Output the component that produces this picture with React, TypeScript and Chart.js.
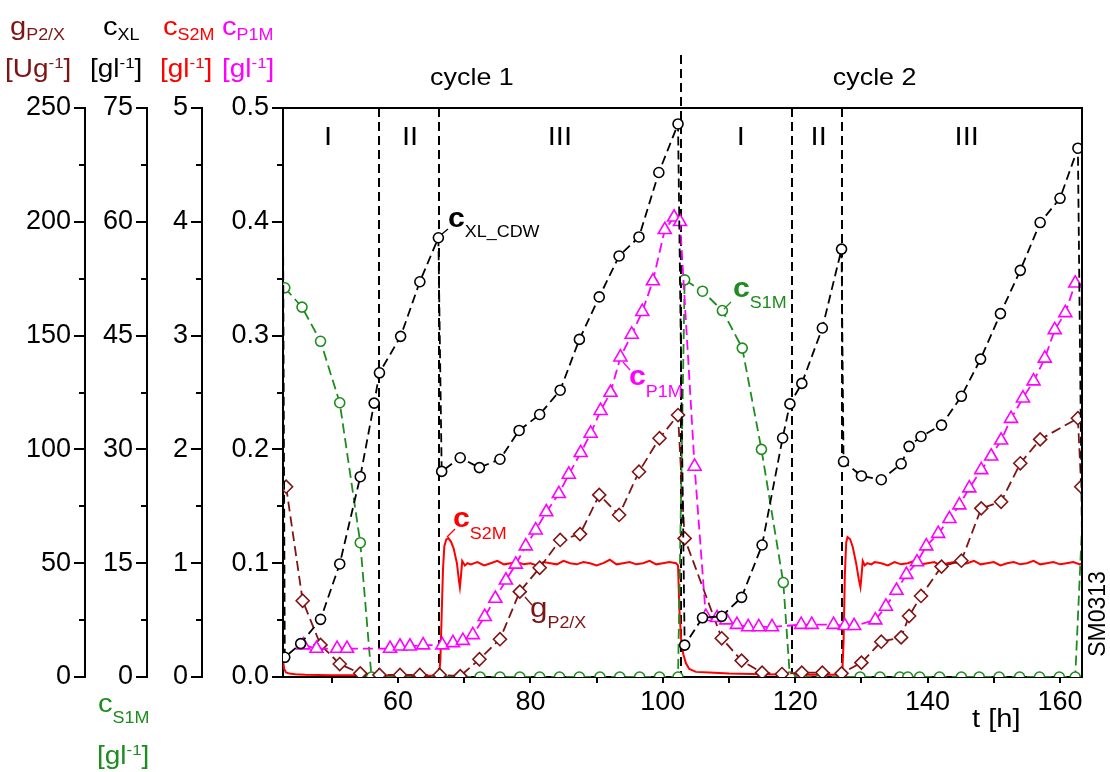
import React, { useEffect, useRef } from 'react';
import { Chart, registerables } from 'chart.js';

Chart.register(...registerables);

const FONT = "'Liberation Sans', Arial, Helvetica, sans-serif";

// ---------------- axis ranges & ticks ----------------
const tMin = 42.63;
const tMax = 163.32;
const xTickValues = [50, 60, 70, 80, 90, 100, 110, 120, 130, 140, 150, 160];
const minorG = [25, 75, 125, 175, 225];
const minorXL = [7.5, 22.5, 37.5, 52.5, 67.5];
const minorS = [0.5, 1.5, 2.5, 3.5, 4.5];
const minorP = [0.05, 0.15, 0.25, 0.35, 0.45];

// phase / cycle separators (t in h)
const phaseT = [57.13, 66.23, 119.58, 127.12];
const cycleT = [102.75];
const phaseLabels = ['I', 'II', 'III', 'I', 'II', 'III'];
const phaseLabelT = [49.43, 61.81, 84.45, 111.77, 123.55, 145.9];
const cycleLabels = ['cycle 1', 'cycle 2'];
const cycleLabelT = [71.17, 132.0];

// ---------------- data ----------------
// c_XL_CDW  [g/l]
const xlT = [42.58, 42.9, 45.3, 48.3, 51.2, 54.3, 56.4, 57.2, 60.4, 63.3,
  66.1, 66.6, 69.4, 72.3, 75.4, 78.3, 81.4, 84.5, 87.4, 90.4,
  93.4, 96.4, 99.4, 102.3, 103.3, 106.0, 108.9, 111.9, 115.0, 118.1,
  119.2, 121.0, 124.1, 127.0, 127.3, 130.0, 133.0, 136.0, 137.2, 139.0,
  142.1, 145.1, 148.0, 151.0, 154.0, 157.0, 160.0, 162.7, 163.5];
const xlV = [72, 2.6, 4.4, 7.6, 14.9, 26.4, 36.1, 40.1, 44.9, 52.1,
  57.9, 27.1, 28.9, 27.6, 28.7, 32.5, 34.6, 37.8, 44.5, 50.1,
  55.5, 58.0, 66.5, 72.9, 4.2, 7.8, 8.0, 10.5, 17.4, 31.5,
  36.0, 38.7, 46.0, 56.4, 28.4, 26.5, 26.0, 28.1, 30.4, 31.7,
  33.2, 37.0, 41.9, 47.9, 53.6, 59.9, 63.1, 69.7, 3];

// c_P1M [g/l]
const p1T = [45.7, 47.7, 50.8, 52.3,
  58.8, 60.3, 61.8, 63.8, 66.7, 68.3, 69.8, 71.3,
  73.1, 74.7, 76.3, 77.8, 79.3, 80.8, 82.4, 84.3, 85.8, 87.6,
  89.1, 90.6, 92.1, 93.6, 95.3, 96.9, 98.5, 100.3, 101.7, 102.6,
  104.8, 106.5, 108.2, 109.6, 111.2, 112.9, 114.5, 116.5,
  120.9, 122.5, 125.8, 127.5, 128.9,
  132.1, 133.7, 135.3, 136.8, 138.4, 139.8, 141.6, 143.3, 144.8, 146.3,
  148.1, 149.6, 151.1, 152.6, 154.4, 156.0, 157.7, 159.2, 160.8, 162.3];
const p1V = [0.028, 0.025, 0.025, 0.025,
  0.025, 0.027, 0.027, 0.028, 0.028, 0.030, 0.032, 0.037,
  0.053, 0.069, 0.085, 0.099, 0.115, 0.129, 0.145, 0.161, 0.178, 0.197,
  0.214, 0.234, 0.250, 0.281, 0.301, 0.321, 0.348, 0.393, 0.404, 0.400,
  0.185, 0.053, 0.052, 0.050, 0.046, 0.044, 0.044, 0.044,
  0.046, 0.046, 0.046, 0.045, 0.045,
  0.050, 0.062, 0.076, 0.090, 0.101, 0.115, 0.126, 0.139, 0.151, 0.166,
  0.182, 0.194, 0.208, 0.227, 0.245, 0.260, 0.280, 0.305, 0.320, 0.346];

// g_P2/X [U/g]
const gT = [43.1, 45.6, 48.3, 51.2, 54.3, 57.2, 60.3, 63.3, 66.3, 69.4,
  72.3, 75.4, 78.4, 81.4, 84.5, 87.5, 90.4, 93.4, 96.4, 99.5,
  102.3, 103.3, 108.9, 111.9, 115.0, 118.0, 121.0, 124.1, 127.0, 130.0,
  133.0, 136.0, 137.2, 139.0, 142.1, 145.1, 148.1, 151.1, 154.0, 157.0,
  162.7, 163.2];
const gV = [83.6, 33.5, 14.1, 5.7, 1.6, 0.9, 0.9, 0.9, 0.9, 0.4,
  7.8, 16.6, 37.5, 48.0, 60.2, 62.8, 80.0, 71.2, 90.2, 104.9,
  115.1, 60.9, 17.0, 7.2, 1.9, 1.3, 1.9, 1.9, 1.6, 6.3,
  15.5, 17.4, 26.8, 35.6, 48.5, 51.1, 74.1, 77.0, 93.9, 104.4,
  113.7, 83.6];

// c_S1M [g/l]
const s1T = [42.9, 45.5, 48.3, 51.2, 54.3,
  56.0, 57.2, 60.3, 63.3, 66.3, 69.4, 72.4, 75.4, 78.4, 81.4, 84.4, 87.4, 90.5, 93.5, 96.5, 99.5, 102.3,
  103.3, 106.0, 109.0, 112.0, 114.9, 118.2,
  119.2, 121.0, 124.0, 127.0, 129.8, 132.8, 135.8, 137.0, 138.8, 141.8, 145.1, 147.8, 150.8, 153.9, 156.9, 159.9, 162.3,
  165.0];
const s1V = [3.42, 3.25, 2.95, 2.41, 1.18,
  0, 0, 0, 0, 0, 0, 0, 0, 0, 0, 0, 0, 0, 0, 0, 0, 0,
  3.49, 3.39, 3.22, 2.89, 2.0, 0.83,
  0, 0, 0, 0, 0, 0, 0, 0, 0, 0, 0, 0, 0, 0, 0, 0, 0,
  3.5];

// c_S2M [g/l] (online trace)
const s2T = [42.63, 42.8, 43.1, 43.6, 44.5, 46, 50, 55, 60, 64,
  66.2, 66.4, 66.6, 66.8, 67.0, 67.3, 67.6, 68.0, 68.4, 68.9,
  69.2, 69.35, 69.5, 69.7, 70.1, 70.5, 71, 72, 73, 74,
  75, 76, 77, 78, 79, 80, 81, 82, 83, 84,
  85, 86, 87, 88, 89, 90, 91, 92, 93, 94,
  95, 96, 97, 98, 99, 100, 101, 102, 102.3, 102.5,
  102.8, 103.1, 103.5, 104, 105, 107, 110, 115, 120, 125,
  127.1, 127.3, 127.5, 127.7, 127.9, 128.3, 128.7, 129.2, 129.6, 129.85,
  130.0, 130.2, 130.5, 130.9, 131.5, 132, 133, 134, 135, 136,
  137, 138, 139, 140, 141, 142, 143, 144, 145, 146,
  147, 148, 149, 150, 151, 152, 153, 154, 155, 156,
  157, 158, 159, 160, 161, 162, 163, 163.32];
const s2V = [0.15, 0.07, 0.04, 0.03, 0.025, 0.02, 0.015, 0.015, 0.01, 0.01,
  0.01, 0.15, 0.55, 0.95, 1.15, 1.21, 1.22, 1.19, 1.13, 1.0,
  0.85, 0.79, 0.88, 1.02, 0.98, 1.0, 0.99, 1.01, 0.98, 1.0,
  1.02, 0.99, 1.0, 1.01, 0.99, 1.0, 0.98, 1.01, 1.0, 0.99,
  1.02, 1.0, 0.99, 1.01, 1.0, 0.98, 1.0, 1.03, 0.99, 1.0,
  1.01, 0.99, 1.0, 1.02, 0.99, 1.0, 1.01, 1.0, 0.98, 0.6,
  0.3, 0.2, 0.12, 0.07, 0.045, 0.04, 0.03, 0.025, 0.02, 0.02,
  0.02, 0.3, 0.9, 1.18, 1.23, 1.21, 1.14, 1.0, 0.86, 0.79,
  0.88, 1.02, 0.98, 1.0, 0.99, 1.01, 1.0, 0.98, 1.01, 0.99,
  1.0, 1.02, 0.99, 1.0, 1.01, 0.98, 1.0, 1.01, 0.99, 1.0,
  1.02, 0.99, 1.0, 1.01, 0.98, 1.0, 1.01, 0.99, 1.0, 1.02,
  0.99, 1.0, 1.01, 0.99, 1.0, 1.01, 0.99, 1.0];

// ---------------- colours ----------------
const C_BLACK = '#000000';
const C_MAG = '#ff00ff';
const C_BROWN = '#7f1414';
const C_GREEN = '#1e8c1e';
const C_RED = '#ff0000';

const mk = (ts: number[], vs: number[]) => ts.map((t, i) => ({ x: t, y: vs[i] }));
const inRange = (c: any) => {
  const r = c.raw;
  return r && r.x >= tMin && r.x <= tMax;
};

type Part = { t: string; size: number; dy?: number; bold?: boolean };
const SX = 1.12;

function partsWidth(ctx: CanvasRenderingContext2D, parts: Part[]) {
  let w = 0;
  for (const p of parts) {
    ctx.font = `${p.bold ? 'bold ' : ''}${p.size}px ${FONT}`;
    w += ctx.measureText(p.t).width;
  }
  return w * SX;
}

function rich(ctx: CanvasRenderingContext2D, x: number, y: number, parts: Part[], color: string, align: 'left' | 'center' = 'left') {
  ctx.save();
  const w = partsWidth(ctx, parts);
  const x0 = align === 'center' ? x - w / 2 : x;
  ctx.translate(x0, y);
  ctx.scale(SX, 1);
  ctx.fillStyle = color;
  ctx.textBaseline = 'alphabetic';
  ctx.textAlign = 'left';
  let cx = 0;
  for (const p of parts) {
    ctx.font = `${p.bold ? 'bold ' : ''}${p.size}px ${FONT}`;
    ctx.fillText(p.t, cx, p.dy || 0);
    cx += ctx.measureText(p.t).width;
  }
  ctx.restore();
}

function seg(ctx: CanvasRenderingContext2D, x1: number, y1: number, x2: number, y2: number) {
  ctx.beginPath();
  ctx.moveTo(x1, y1);
  ctx.lineTo(x2, y2);
  ctx.stroke();
}

const decorPlugin = {
  id: 'decor',
  beforeDatasetsDraw(chart: any) {
    const { ctx, chartArea: a, scales } = chart;
    const xs = scales.x;
    ctx.save();
    ctx.strokeStyle = '#000';
    ctx.lineWidth = 2;
    ctx.setLineDash([9, 5]);
    phaseT.forEach((t) => {
      const px = Math.round(xs.getPixelForValue(t));
      seg(ctx, px, a.top, px, a.bottom);
    });
    cycleT.forEach((t) => {
      const px = Math.round(xs.getPixelForValue(t));
      seg(ctx, px, 55, px, a.bottom);
    });
    ctx.restore();
  },
  afterDraw(chart: any) {
    const { ctx, chartArea: a, scales } = chart;
    const xs = scales.x;
    ctx.save();
    // frame top & right
    ctx.strokeStyle = '#000';
    ctx.lineWidth = 2;
    ctx.setLineDash([]);
    seg(ctx, a.left, a.top, a.right + 1, a.top);
    seg(ctx, a.right, a.top, a.right, a.bottom);

    // minor ticks on the y axes
    const minors: [string, number[]][] = [['yG', minorG], ['yXL', minorXL], ['yS', minorS], ['yP', minorP]];
    minors.forEach(([id, vals]) => {
      const s = scales[id];
      vals.forEach((v) => {
        const py = Math.round(s.getPixelForValue(v));
        seg(ctx, s.right - 6, py, s.right, py);
      });
    });

    // phase labels & cycle labels
    phaseLabels.forEach((lab, i) => {
      rich(ctx, xs.getPixelForValue(phaseLabelT[i]), 145, [{ t: lab, size: 26 }], '#000', 'center');
    });
    cycleLabels.forEach((lab, i) => {
      rich(ctx, xs.getPixelForValue(cycleLabelT[i]), 85, [{ t: lab, size: 24 }], '#000', 'center');
    });

    // axis headers
    rich(ctx, 10, 35, [{ t: 'g', size: 26 }, { t: 'P2/X', size: 16, dy: 5 }], C_BROWN);
    rich(ctx, 103, 35, [{ t: 'c', size: 26 }, { t: 'XL', size: 16, dy: 5 }], C_BLACK);
    rich(ctx, 163, 35, [{ t: 'c', size: 26 }, { t: 'S2M', size: 16, dy: 5 }], C_RED);
    rich(ctx, 222, 35, [{ t: 'c', size: 26 }, { t: 'P1M', size: 16, dy: 5 }], C_MAG);
    const unit = (pre: string): Part[] => [{ t: pre, size: 25 }, { t: '-1', size: 15, dy: -9 }, { t: ']', size: 25 }];
    rich(ctx, 5, 77, unit('[Ug'), C_BROWN);
    rich(ctx, 90, 77, unit('[gl'), C_BLACK);
    rich(ctx, 160, 77, unit('[gl'), C_RED);
    rich(ctx, 222, 77, unit('[gl'), C_MAG);
    rich(ctx, 98, 712, [{ t: 'c', size: 26 }, { t: 'S1M', size: 16, dy: 11 }], C_GREEN);
    rich(ctx, 97, 764, unit('[gl'), C_GREEN);

    // x title
    rich(ctx, 972, 727, [{ t: 't [h]', size: 26 }], '#000');

    // series labels with leader lines
    ctx.lineWidth = 1.3;
    ctx.strokeStyle = C_BLACK;
    seg(ctx, 442, 234, 448, 229);
    rich(ctx, 448, 227, [{ t: 'c', size: 27, bold: true }, { t: 'XL_CDW', size: 16, dy: 10 }], C_BLACK);
    ctx.strokeStyle = C_MAG;
    seg(ctx, 623, 362, 630, 370);
    rich(ctx, 629, 385, [{ t: 'c', size: 27, bold: true }, { t: 'P1M', size: 16, dy: 12 }], C_MAG);
    ctx.strokeStyle = C_RED;
    seg(ctx, 447, 537, 455, 529);
    rich(ctx, 453, 527, [{ t: 'c', size: 27, bold: true }, { t: 'S2M', size: 16, dy: 12 }], C_RED);
    ctx.strokeStyle = C_BROWN;
    seg(ctx, 525, 597, 532, 605);
    rich(ctx, 530, 617, [{ t: 'g', size: 28 }, { t: 'P2/X', size: 16, dy: 11 }], C_BROWN);
    ctx.strokeStyle = C_GREEN;
    seg(ctx, 724, 309, 731, 302);
    rich(ctx, 733, 297, [{ t: 'c', size: 27, bold: true }, { t: 'S1M', size: 16, dy: 11 }], C_GREEN);

    // stamp
    ctx.save();
    ctx.translate(1105, 614);
    ctx.rotate(-Math.PI / 2);
    ctx.fillStyle = '#000';
    ctx.font = `23px ${FONT}`;
    ctx.textAlign = 'center';
    ctx.textBaseline = 'alphabetic';
    ctx.fillText('SM0313', 0, 0);
    ctx.restore();

    ctx.restore();
  },
};

const yAxis = (min: number, max: number, step: number, weight: number, width: number, fmt: (v: number) => string) => ({
  type: 'linear',
  position: 'left',
  min,
  max,
  weight,
  ticks: { stepSize: step, color: '#000', font: { size: 27, family: FONT }, padding: 3, callback: (v: any) => fmt(Number(v)) },
  grid: { drawOnChartArea: false, drawTicks: true, tickLength: 11, color: '#000', lineWidth: 2 },
  border: { display: true, color: '#000', width: 2 },
  afterFit: (s: any) => {
    s.width = width;
  },
});

export default function App() {
  const ref = useRef<HTMLCanvasElement>(null);
  useEffect(() => {
    if (!ref.current) return;
    Chart.defaults.font.family = FONT;
    const chart = new Chart(ref.current, {
      type: 'line',
      data: {
        datasets: [
          {
            label: 'cXL_CDW', data: mk(xlT, xlV), yAxisID: 'yXL', order: 0,
            borderColor: C_BLACK, borderWidth: 1.8, borderDash: [9, 5], tension: 0,
            pointStyle: 'circle', pointRadius: (c: any) => (inRange(c) ? 5 : 0),
            pointBorderColor: C_BLACK, pointBackgroundColor: '#fff', pointBorderWidth: 1.6,
          },
          {
            label: 'cP1M', data: mk(p1T, p1V), yAxisID: 'yP', order: 1,
            borderColor: C_MAG, borderWidth: 1.8, borderDash: [10, 5], tension: 0,
            pointStyle: 'triangle', pointRadius: (c: any) => (inRange(c) ? 7.5 : 0),
            pointBorderColor: C_MAG, pointBackgroundColor: '#fff', pointBorderWidth: 1.6,
          },
          {
            label: 'gP2/X', data: mk(gT, gV), yAxisID: 'yG', order: 2,
            borderColor: C_BROWN, borderWidth: 1.8, borderDash: [10, 5], tension: 0,
            pointStyle: 'rectRot', pointRadius: (c: any) => (inRange(c) ? 6.5 : 0),
            pointBorderColor: C_BROWN, pointBackgroundColor: '#fff', pointBorderWidth: 1.6,
          },
          {
            label: 'cS1M', data: mk(s1T, s1V), yAxisID: 'yS', order: 3,
            borderColor: C_GREEN, borderWidth: 1.8, borderDash: [10, 5], tension: 0,
            pointStyle: 'circle', pointRadius: (c: any) => (inRange(c) ? 5 : 0),
            pointBorderColor: C_GREEN, pointBackgroundColor: '#fff', pointBorderWidth: 1.6,
          },
          {
            label: 'cS2M', data: mk(s2T, s2V), yAxisID: 'yS', order: 4,
            borderColor: C_RED, borderWidth: 2, tension: 0, pointRadius: 0,
          },
        ],
      } as any,
      options: {
        responsive: false,
        animation: false,
        events: [],
        layout: { padding: { top: 108, right: 28, bottom: 0, left: 0 } },
        plugins: { legend: { display: false }, tooltip: { enabled: false }, title: { display: false } },
        scales: {
          x: {
            type: 'linear',
            position: 'bottom',
            min: tMin,
            max: tMax,
            afterBuildTicks: (s: any) => {
              s.ticks = xTickValues.map((v) => ({ value: v }));
            },
            ticks: {
              color: '#000', font: { size: 27, family: FONT }, padding: 3, autoSkip: false, maxRotation: 0,
              callback: (v: any) => (Number(v) % 20 === 0 ? String(v) : ''),
            },
            grid: { drawOnChartArea: false, drawTicks: true, tickLength: 6, color: '#000', lineWidth: 2 },
            border: { display: true, color: '#000', width: 2 },
            afterFit: (s: any) => {
              s.height = 95;
            },
          },
          yP: yAxis(0, 0.5, 0.1, 1, 81, (v) => v.toFixed(1)),
          yS: yAxis(0, 5, 1, 2, 55, (v) => String(Math.round(v))),
          yXL: yAxis(0, 75, 15, 3, 62, (v) => String(Math.round(v))),
          yG: yAxis(0, 250, 50, 4, 85, (v) => String(Math.round(v))),
        },
      } as any,
      plugins: [decorPlugin],
    });
    return () => chart.destroy();
  }, []);
  return (
    <div style={{ position: 'absolute', left: 0, top: 0, width: 1110, height: 772, background: '#fff' }}>
      <canvas ref={ref} width={1110} height={772} style={{ display: 'block' }} />
    </div>
  );
}
